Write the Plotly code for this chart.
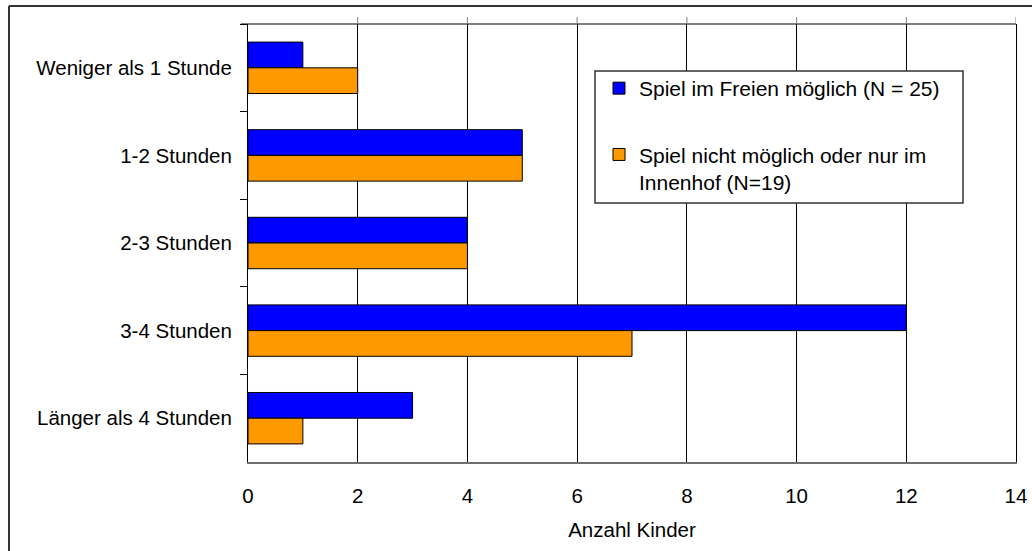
import plotly.graph_objects as go

categories = ["Weniger als 1 Stunde", "1-2 Stunden", "2-3 Stunden", "3-4 Stunden", "Länger als 4 Stunden"]
freien = [1, 5, 4, 12, 3]
nicht_moeglich = [2, 5, 4, 7, 1]
series_names = ["Spiel im Freien möglich (N = 25)", "Spiel nicht möglich oder nur im<br>Innenhof (N=19)"]
x_ticks = [0, 2, 4, 6, 8, 10, 12, 14]

FONT = "Liberation Sans, Arial, sans-serif"

fig = go.Figure()
fig.add_trace(go.Bar(
    y=categories, x=freien, orientation="h", name=series_names[0],
    marker=dict(color="#0000FF", line=dict(color="#000000", width=1)),
    legendgroup="a",
))
fig.add_trace(go.Bar(
    y=categories, x=nicht_moeglich, orientation="h", name=series_names[1],
    marker=dict(color="#FF9900", line=dict(color="#000000", width=1)),
    legendgroup="b",
))

W, H = 1032, 551
L, R, T, B = 248, 16, 24, 89
pw, ph = W - L - R, H - T - B

def px(x):
    return (x - L) / pw

def py(y):
    return (H - B - y) / ph

shapes = [
    # top border line of plot area
    dict(type="line", xref="paper", yref="paper", x0=px(241), x1=1, y0=1, y1=1,
         line=dict(color="#000000", width=1)),
    # legend box
    dict(type="rect", xref="paper", yref="paper", x0=px(595), x1=px(963), y0=py(203), y1=py(71),
         line=dict(color="#333333", width=1.5), fillcolor="white", layer="above"),
    # outer frame (only top and left edges are visible in the picture)
    dict(type="line", xref="paper", yref="paper", x0=px(9), x1=px(W), y0=py(6), y1=py(6),
         line=dict(color="#333333", width=2)),
    dict(type="line", xref="paper", yref="paper", x0=px(9), x1=px(9), y0=py(6), y1=py(H),
         line=dict(color="#333333", width=2)),
]
# short extensions of the vertical gridlines above the plot area
for t in x_ticks[1:]:
    shapes.append(dict(type="line", xref="x", yref="paper", x0=t, x1=t, y0=1, y1=py(17),
                       line=dict(color="#808080", width=1)))

fig.update_layout(
    template="none",
    width=W, height=H, autosize=False,
    margin=dict(l=L, r=R, t=T, b=B, pad=0, autoexpand=False),
    paper_bgcolor="white", plot_bgcolor="white",
    font=dict(family=FONT, size=20.5, color="#000000"),
    barmode="group", bargap=0.413, bargroupgap=0,
    showlegend=True,
    legend=dict(
        x=px(599), y=py(68), xanchor="left", yanchor="top",
        bgcolor="rgba(0,0,0,0)", borderwidth=0,
        traceorder="grouped", tracegroupgap=36, valign="top",
        font=dict(family=FONT, size=21, color="#000000"),
    ),
    xaxis=dict(
        range=[0, 14], tickvals=x_ticks, ticks="", showgrid=True,
        gridcolor="#000000", gridwidth=1, zeroline=False,
        showline=True, linecolor="#6e6e6e", linewidth=1.5, mirror=False,
        ticklabelstandoff=15, automargin=False,
        title=dict(text="Anzahl Kinder", standoff=16, font=dict(family=FONT, size=20.5)),
        fixedrange=True,
    ),
    yaxis=dict(
        autorange="reversed", type="category", tickson="boundaries",
        ticks="outside", ticklen=7, tickcolor="#000000", tickwidth=1,
        showline=True, linecolor="#000000", linewidth=1, mirror=True,
        showgrid=False, ticklabelstandoff=11, automargin=False,
        fixedrange=True,
    ),
    shapes=shapes,
)

fig.write_html("out.html", config={"displayModeBar": False},
               post_script="document.body.style.margin='0';document.body.style.padding='0';document.body.style.overflow='hidden';")
